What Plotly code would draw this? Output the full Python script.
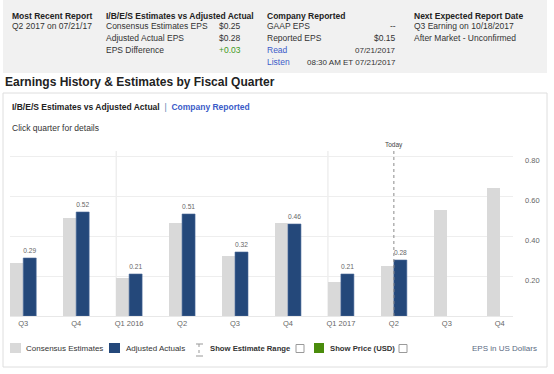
import plotly.graph_objects as go

# ---------------- data ----------------
quarters = ["Q3", "Q4", "Q1 2016", "Q2", "Q3", "Q4", "Q1 2017", "Q2", "Q3", "Q4"]
consensus = [0.265, 0.49, 0.19, 0.465, 0.30, 0.465, 0.17, 0.25, 0.53, 0.64]
actuals = [0.29, 0.52, 0.21, 0.51, 0.32, 0.46, 0.21, 0.28, None, None]
y_ticks = [0.20, 0.40, 0.60, 0.80]
today_label = "Today"
today_quarter = 7

header_cols = [
    ("Most Recent Report", ["Q2 2017 on 07/21/17"]),
    ("I/B/E/S Estimates vs Adjusted Actual", ["Consensus Estimates EPS", "Adjusted Actual EPS", "EPS Difference"]),
    ("Company Reported", ["GAAP EPS", "Reported EPS", "Read", "Listen"]),
    ("Next Expected Report Date", ["Q3 Earning on 10/18/2017", "After Market - Unconfirmed"]),
]
ibes_values = ["$0.25", "$0.28", "+0.03"]
company_values = ["--", "$0.15", "07/21/2017", "08:30 AM ET 07/21/2017"]

# ---------------- geometry ----------------
W, H = 554, 374
L, R, T, B = 10, 513, 151, 316
FONT = "Liberation Sans, Arial, sans-serif"
BW = 0.245  # bar width in category units

def px(x):
    return (x - L) / (R - L)

def py(y):
    return (B - y) / (B - T)

xs = list(range(len(quarters)))

fig = go.Figure()
fig.add_trace(go.Bar(
    x=xs, y=consensus, width=BW, offset=-BW,
    marker=dict(color="#d9d9d9", line=dict(width=0)),
    hoverinfo="skip", showlegend=False))
fig.add_trace(go.Bar(
    x=xs, y=actuals, width=BW, offset=0,
    marker=dict(color="#24487a", line=dict(width=0.6, color="#4a6a98")),
    text=[f"{v:.2f}" if v is not None else "" for v in actuals],
    textposition="outside", cliponaxis=False,
    textfont=dict(size=7.5, color="#666666", family=FONT),
    hoverinfo="skip", showlegend=False))

shapes = []
annotations = []

def text(x, y, s, size=8.5, color="#333333", bold=False, anchor="left"):
    if bold:
        s = f"<b>{s}</b>"
    annotations.append(dict(
        x=px(x), y=py(y), xref="paper", yref="paper", text=s, showarrow=False,
        xanchor=anchor, yanchor="middle", font=dict(size=size, color=color, family=FONT)))

def rect(x0, y0, x1, y1, fill=None, line=None, lw=1, layer="below"):
    shapes.append(dict(
        type="rect", xref="paper", yref="paper",
        x0=px(x0), x1=px(x1), y0=py(y0), y1=py(y1),
        fillcolor=fill if fill else "rgba(0,0,0,0)",
        line=dict(color=line if line else "rgba(0,0,0,0)", width=lw if line else 0),
        layer=layer))

def line(x0, y0, x1, y1, color, width=1, dash="solid", layer="above"):
    shapes.append(dict(
        type="line", xref="paper", yref="paper",
        x0=px(x0), x1=px(x1), y0=py(y0), y1=py(y1),
        line=dict(color=color, width=width, dash=dash), layer=layer))

# header box
rect(3, 0, 547, 73, fill="#f1f1f1")
col_x = [10, 104, 265, 412]
for (title, rows), cx in zip(header_cols, col_x):
    text(cx, 16, title, bold=True, color="#222222")
    for i, r in enumerate(rows):
        c = "#3b5bc8" if r in ("Read", "Listen") else "#333333"
        text(cx, 26 + i * 12, r, color=c)
for i, v in enumerate(ibes_values):
    text(243, 26 + i * 12, v, color="#3f9a1c" if v.startswith("+") else "#333333", anchor="right")
for i, v in enumerate(company_values):
    text(398, 26 + i * 12, v, anchor="right", size=8.5 if i < 2 else 8)

# title
text(3, 82, "Earnings History & Estimates by Fiscal Quarter", size=12, bold=True, color="#222222")

# panel
rect(3, 93, 547, 367, line="#dedede", lw=1)
annotations.append(dict(
    x=px(10), y=py(107), xref="paper", yref="paper", showarrow=False, xanchor="left", yanchor="middle",
    text="<b>I/B/E/S Estimates vs Adjusted Actual</b>  <span style='color:#5b7fb0'>|</span>  "
         "<b><span style='color:#3b5bc8'>Company Reported</span></b>",
    font=dict(size=8.5, color="#222222", family=FONT)))
text(10, 128, "Click quarter for details", size=8.5, color="#333333")

# year separator lines
for i, q in enumerate(quarters):
    if " " in q:
        shapes.append(dict(type="line", xref="x", yref="paper", x0=i - BW, x1=i - BW,
                           y0=0, y1=1, line=dict(color="#e6e6e6", width=1), layer="below"))

# today line
shapes.append(dict(type="line", xref="x", yref="paper", x0=today_quarter, x1=today_quarter,
                   y0=0, y1=py(149), line=dict(color="#8a8a8a", width=1, dash="dot"), layer="above"))
annotations.append(dict(x=today_quarter, y=py(145), xref="x", yref="paper", text=today_label,
                        showarrow=False, xanchor="center", yanchor="middle",
                        font=dict(size=6.5, color="#444444", family=FONT)))

# legend
ly = 348
rect(10, 343, 21, 353, fill="#d9d9d9", layer="above")
text(24, ly, "Consensus Estimates", size=8)
rect(109, 343, 120, 353, fill="#24487a", layer="above")
text(124, ly, "Adjusted Actuals", size=8)
line(199, 344, 199, 356, "#999999", 1, "dot")
line(196, 344, 203, 344, "#999999", 1)
line(196, 356, 203, 356, "#999999", 1)
text(208, ly, "Show Estimate Range", size=7.7, bold=True)
shapes.append(dict(type="rect", xref="paper", yref="paper", x0=px(296), x1=px(304), y0=py(344.5), y1=py(352.5),
                   line=dict(color="#9a9a9a", width=1), fillcolor="white", layer="above"))
rect(314, 343, 324, 353, fill="#4a8c0c", layer="above")
text(328, ly, "Show Price (USD)", size=7.7, bold=True)
shapes.append(dict(type="rect", xref="paper", yref="paper", x0=px(399), x1=px(407), y0=py(344.5), y1=py(352.5),
                   line=dict(color="#9a9a9a", width=1), fillcolor="white", layer="above"))
text(539, ly, "EPS in US Dollars", size=8, color="#5a6a82", anchor="right")

fig.update_layout(
    width=W, height=H,
    margin=dict(l=L, r=W - R, t=T, b=H - B, pad=0, autoexpand=False),
    paper_bgcolor="white", plot_bgcolor="white",
    barmode="overlay", bargap=0,
    shapes=shapes, annotations=annotations,
    font=dict(family=FONT),
    xaxis=dict(
        range=[-BW - 0.005, len(quarters) - 1 + BW + 0.005],
        tickvals=xs, ticktext=quarters, showgrid=False, zeroline=False,
        showline=True, linecolor="#e8e8e8", linewidth=1,
        ticks="", tickfont=dict(size=7.5, color="#666666", family=FONT), fixedrange=True),
    yaxis=dict(
        range=[0, (B - T) / 200], side="right", tickvals=y_ticks, tickformat=".2f",
        showgrid=True, gridcolor="#eeeeee", gridwidth=1, zeroline=False, showline=False,
        ticks="", ticklabelstandoff=11, ticklabelshift=4,
        tickfont=dict(size=7.5, color="#666666", family=FONT), fixedrange=True),
)

fig.write_html(
    "out.html",
    config={"displayModeBar": False, "staticPlot": True},
    post_script="document.body.style.margin='0';document.body.style.padding='0';document.body.style.overflow='hidden';",
)
